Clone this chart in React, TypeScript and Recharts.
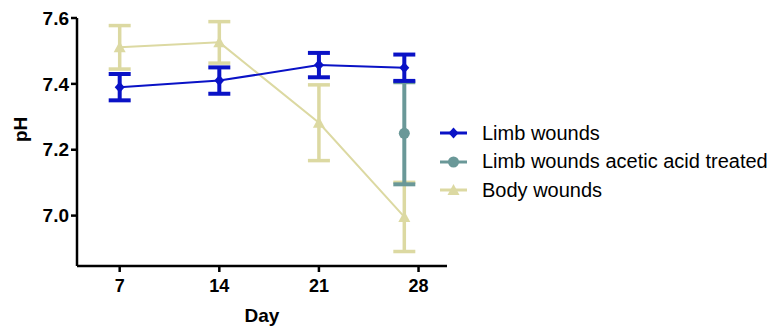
import { LineChart, Line, XAxis, YAxis, ErrorBar } from 'recharts';

const dayTicks = [7, 14, 21, 28];
const phTicks = [7.0, 7.2, 7.4, 7.6];

const limbDays = [7, 14, 21, 27];
const limbPh = [7.39, 7.41, 7.457, 7.449];
const limbErr = [0.04, 0.04, 0.037, 0.04];

const aceticDays = [27];
const aceticPh = [7.25];
const aceticErr = [0.155];

const bodyDays = [7, 14, 21, 27];
const bodyPh = [7.511, 7.526, 7.282, 6.996];
const bodyErr = [0.066, 0.063, 0.115, 0.105];

const BLUE = '#0a12c6';
const TEAL = '#6a9898';
const KHAKI = '#dcd9a2';

const rows = (days, ph, err) => days.map((d, i) => ({ day: d, ph: ph[i], err: err[i] }));

const limbData = rows(limbDays, limbPh, limbErr);
const aceticData = rows(aceticDays, aceticPh, aceticErr);
const bodyData = rows(bodyDays, bodyPh, bodyErr);

const FONT = '"Liberation Sans", Arial, sans-serif';

const Diamond = ({ cx, cy, fill }) => (
  <path d={`M${cx},${cy - 5.5}L${cx + 5},${cy}L${cx},${cy + 5.5}L${cx - 5},${cy}Z`} fill={fill} />
);
const Circle = ({ cx, cy, fill }) => <circle cx={cx} cy={cy} r={5.5} fill={fill} />;
const Triangle = ({ cx, cy, fill }) => (
  <path d={`M${cx},${cy - 6}L${cx + 6},${cy + 5}L${cx - 6},${cy + 5}Z`} fill={fill} />
);

const legendItems = [
  { name: 'Limb wounds', color: BLUE, Marker: Diamond },
  { name: 'Limb wounds acetic acid treated', color: TEAL, Marker: Circle },
  { name: 'Body wounds', color: KHAKI, Marker: Triangle },
];

const dot = (Marker, color) => (props) => <Marker key={props.index} cx={props.cx} cy={props.cy} fill={color} />;

export default function App() {
  return (
    <div style={{ position: 'absolute', left: 0, top: 0, width: 775, height: 326, background: '#fff' }}>
      <LineChart width={775} height={326} margin={{ top: 18, right: 328, left: 0, bottom: 0 }}>
        <XAxis
          dataKey="day"
          type="number"
          domain={[4, 30]}
          ticks={dayTicks}
          allowDuplicatedCategory={false}
          height={60}
          stroke="#000"
          strokeWidth={2.5}
          tickSize={6}
          tickMargin={7}
          tick={{ fill: '#000', fontSize: 18, fontWeight: 'bold', fontFamily: FONT }}
          label={{ value: 'Day', position: 'insideBottom', offset: 4, fill: '#000', fontSize: 19, fontWeight: 'bold', fontFamily: FONT }}
        />
        <YAxis
          type="number"
          domain={[6.847, 7.6]}
          ticks={phTicks}
          width={77}
          stroke="#000"
          strokeWidth={2.5}
          tickSize={6}
          tickMargin={2}
          tickFormatter={(v) => v.toFixed(1)}
          tick={{ fill: '#000', fontSize: 19, fontWeight: 'bold', fontFamily: FONT }}
          label={{ value: 'pH', angle: -90, position: 'insideLeft', offset: 20, fill: '#000', fontSize: 19, fontWeight: 'bold', fontFamily: FONT }}
        />
        <Line
          data={bodyData}
          dataKey="ph"
          name="Body wounds"
          stroke={KHAKI}
          strokeWidth={2}
          dot={dot(Triangle, KHAKI)}
          activeDot={false}
          isAnimationActive={false}
        >
          <ErrorBar dataKey="err" direction="y" width={11} stroke={KHAKI} strokeWidth={3.5} />
        </Line>
        <Line
          data={aceticData}
          dataKey="ph"
          name="Limb wounds acetic acid treated"
          stroke={TEAL}
          strokeWidth={2}
          dot={dot(Circle, TEAL)}
          activeDot={false}
          isAnimationActive={false}
        >
          <ErrorBar dataKey="err" direction="y" width={11} stroke={TEAL} strokeWidth={4} />
        </Line>
        <Line
          data={limbData}
          dataKey="ph"
          name="Limb wounds"
          stroke={BLUE}
          strokeWidth={2}
          dot={dot(Diamond, BLUE)}
          activeDot={false}
          isAnimationActive={false}
        >
          <ErrorBar dataKey="err" direction="y" width={11} stroke={BLUE} strokeWidth={4} />
        </Line>
      </LineChart>
      <div style={{ position: 'absolute', left: 440, top: 119, fontFamily: FONT, fontSize: 20, color: '#000' }}>
        {legendItems.map(({ name, color, Marker }) => (
          <div key={name} style={{ display: 'flex', alignItems: 'center', height: 28.5 }}>
            <svg width={42} height={20}>
              <line x1={0} y1={10} x2={27} y2={10} stroke={color} strokeWidth={3} />
              <Marker cx={13.5} cy={10} fill={color} />
            </svg>
            <span style={{ whiteSpace: 'nowrap' }}>{name}</span>
          </div>
        ))}
      </div>
    </div>
  );
}
